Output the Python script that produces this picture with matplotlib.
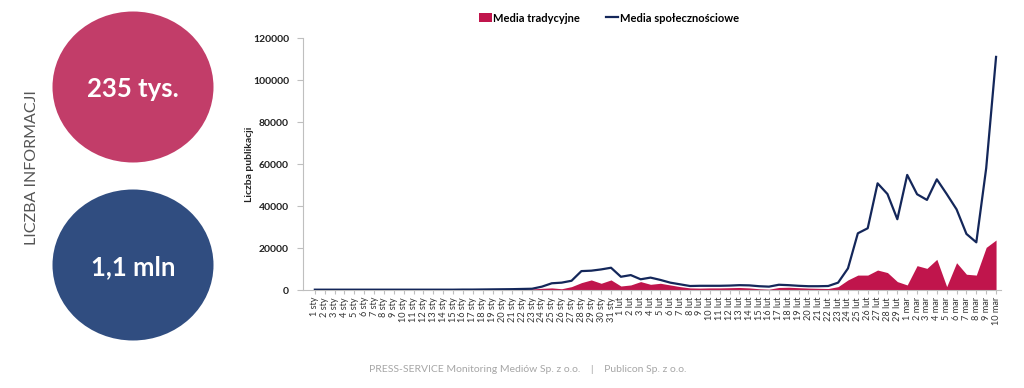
import matplotlib
matplotlib.use("Agg")
import matplotlib.pyplot as plt
from matplotlib.patches import Ellipse, Patch
from matplotlib.lines import Line2D

plt.rcParams['font.family'] = ['Lato', 'DejaVu Sans']

days_sty = [f"{d} sty" for d in range(1, 32)]
days_lut = [f"{d} lut" for d in range(1, 30)]
days_mar = [f"{d} mar" for d in range(1, 11)]
labels = days_sty + days_lut + days_mar

social = [150, 150, 150, 150, 150, 150, 150, 150, 150, 150,
          150, 150, 150, 150, 150, 200, 200, 250, 300, 350,
          400, 500, 600, 1600, 3200, 3500, 4400, 9000, 9200, 9800, 10600,
          6300, 7100, 5100, 5900, 4800, 3500, 2700, 1900, 2000, 2000,
          2000, 2100, 2300, 2200, 1800, 1600, 2500, 2300, 2000, 1800,
          1800, 1900, 3500, 10300, 27000, 29400, 50800, 45700, 33700,
          54800, 45600, 42900, 52700, 45700, 38400, 26700, 22700, 58000, 111000]

traditional = [80, 80, 80, 80, 80, 80, 80, 80, 80, 80,
               80, 80, 80, 80, 80, 100, 100, 120, 150, 180,
               200, 300, 500, 800, 1000, 600, 1600, 3500, 4800, 3200, 4800,
               1900, 2400, 4000, 2700, 3200, 2400, 1600, 1000, 900, 1000,
               1000, 1100, 1200, 1000, 600, 400, 1200, 1300, 1100, 900,
               800, 700, 1600, 4800, 7100, 7100, 9500, 8300, 4000,
               2400, 11600, 10300, 14600, 1600, 13000, 7500, 7100, 20300, 23800]

yticks = [0, 20000, 40000, 60000, 80000, 100000, 120000]

W, H = 1024, 388
fig = plt.figure(figsize=(W / 100, H / 100), dpi=100)

RED = '#C0154C'
NAVY = '#14275A'

ax = fig.add_axes([303 / W, 1 - 290 / H, (1001 - 303) / W, (290 - 38) / H])
x = list(range(len(labels)))
ax.fill_between(x, traditional, 0, color=RED, linewidth=0, zorder=2)
ax.plot(x, social, color=NAVY, linewidth=1.6, zorder=3)
ax.set_xlim(-1.2, len(labels) - 0.5)
ax.set_ylim(0, 120000)
ax.set_yticks(yticks)
ax.set_yticklabels([str(v) for v in yticks], fontsize=7.5, fontweight='bold', color='#222222')
ax.set_xticks(x)
ax.set_xticklabels(labels, rotation=90, fontsize=6.6, color='#333333')
for s in ['top', 'right']:
    ax.spines[s].set_visible(False)
for s in ['left', 'bottom']:
    ax.spines[s].set_color('#BFBFBF')
    ax.spines[s].set_linewidth(0.8)
ax.tick_params(axis='y', length=4, color='#BFBFBF', pad=6)
ax.tick_params(axis='x', length=3, color='#BFBFBF', pad=2)
ax.set_ylabel('Liczba publikacji', fontsize=7.5, fontweight='bold', color='#222222', labelpad=-1)

handles = [Patch(facecolor=RED, edgecolor='none'), Line2D([0], [0], color=NAVY, linewidth=1.6)]
fig.legend(handles, ['Media tradycyjne', 'Media społecznościowe'], loc='center',
           bbox_to_anchor=(609 / W, 1 - 18 / H), ncol=2, frameon=False,
           prop={'size': 8.0, 'weight': 'bold'}, handlelength=1.1, handleheight=0.8,
           handletextpad=0.15, columnspacing=2.3)

# left-hand summary circles
bg = fig.add_axes([0, 0, 1, 1], zorder=-1)
bg.set_xlim(0, W)
bg.set_ylim(H, 0)
bg.axis('off')
bg.add_patch(Ellipse((133, 87), 161, 151, facecolor='#C23D69', edgecolor='none'))
bg.add_patch(Ellipse((133, 265), 161, 151, facecolor='#304D80', edgecolor='none'))
bg.text(133, 89, '235 tys.', color='white', fontsize=18.5, fontweight='bold', ha='center', va='center')
bg.text(133, 267, '1,1 mln', color='white', fontsize=18.5, fontweight='bold', ha='center', va='center')
bg.text(32, 168, 'LICZBA INFORMACJI', rotation=90, color='#555555', fontsize=11.5,
        ha='center', va='center')
bg.text(528, 369, 'PRESS-SERVICE Monitoring Mediów Sp. z o.o.    |    Publicon Sp. z o.o.',
        color='#A6A6A6', fontsize=7.5, ha='center', va='center')

fig.savefig('out.png', dpi=100)
